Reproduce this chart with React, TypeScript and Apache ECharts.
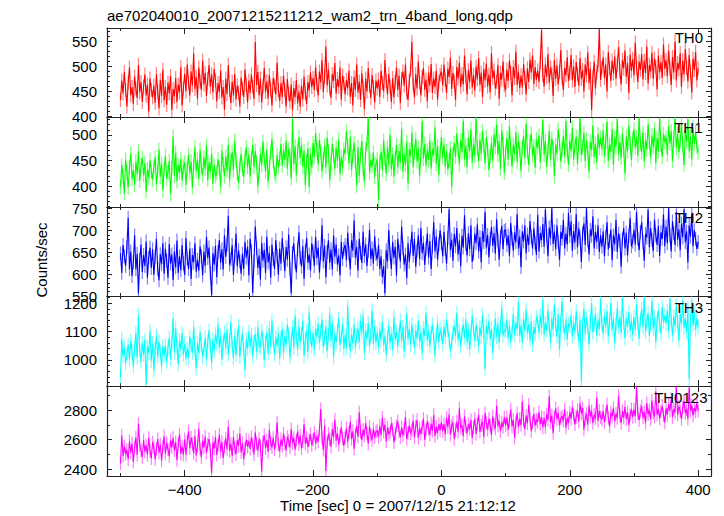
import { useEffect, useRef } from 'react';
import * as echarts from 'echarts';

const FONT = '"Liberation Sans", Arial, Helvetica, sans-serif';

// time bins: t = T0 + i * DT (sec), 451 bins from -500 to 400
const T0 = -500;
const DT = 2;

const TH0 = [
  432, 471, 445, 488, 452, 419, 466, 497, 441, 458, 424, 479, 455, 436, 502, 447, 468, 428, 459, 483, 441, 463, 409, 475, 452,
  437, 461, 426, 484, 449, 415, 472, 440, 493, 431, 458, 422, 467, 445, 480, 412, 454, 439, 476, 428, 463, 447, 498, 421, 455,
  484, 449, 503, 467, 441, 489, 461, 525, 454, 478, 435, 497, 469, 452, 511, 463, 486, 440, 474, 502, 458, 483, 447, 494, 471,
  429, 466, 448, 491, 437, 458, 413, 475, 444, 502, 452, 426, 469, 441, 484, 433, 461, 447, 419, 477, 455, 438, 493, 462, 427,
  471, 446, 483, 458, 434, 548, 462, 488, 441, 475, 427, 459, 496, 448, 469, 435, 482, 453, 421, 476, 461, 443, 507, 452, 430,
  466, 438, 481, 452, 419, 474, 444, 429, 463, 411, 456, 437, 472, 425, 449, 418, 461, 433, 479, 446, 424, 468, 451, 487, 458,
  476, 452, 498, 463, 441, 489, 467, 512, 448, 479, 539, 461, 493, 455, 436, 484, 470, 506, 445, 474, 458, 497, 433, 481, 466,
  443, 472, 455, 491, 438, 466, 421, 478, 452, 503, 447, 469, 432, 486, 457, 414, 475, 449, 496, 461, 436, 482, 458, 427, 471,
  455, 473, 438, 491, 466, 449, 512, 470, 443, 484, 459, 428, 476, 437, 468, 497, 452, 481, 426, 474, 489, 461, 503, 447, 432,
  471, 492, 548, 463, 437, 484, 455, 509, 468, 441, 478, 496, 452, 473, 429, 487, 461, 504, 446, 475, 458, 491, 433, 469, 482,
  489, 461, 503, 472, 446, 495, 478, 517, 454, 486, 469, 432, 498, 475, 507, 458, 484, 463, 521, 479, 443, 492, 468, 511, 457,
  482, 451, 499, 473, 516, 462, 487, 438, 494, 471, 505, 459, 483, 447, 526, 476, 491, 455, 468, 502, 434, 486, 473, 509, 461,
  452, 493, 470, 511, 486, 441, 498, 475, 529, 462, 489, 456, 481, 457, 504, 476, 443, 495, 468, 513, 487, 521, 464, 498, 472,
  491, 468, 507, 572, 482, 459, 503, 478, 524, 466, 497, 485, 440, 512, 474, 501, 463, 489, 532, 477, 452, 496, 481, 518, 470,
  487, 522, 471, 499, 458, 508, 483, 461, 516, 474, 492, 449, 503, 481, 527, 466, 495, 412, 478, 509, 455, 488, 501, 574, 472,
  496, 517, 476, 503, 449, 528, 496, 470, 511, 485, 519, 474, 502, 538, 489, 463, 512, 495, 531, 478, 506, 446, 523, 490, 514,
  481, 547, 497, 468, 509, 492, 524, 473, 511, 486, 539, 465, 502, 489, 527, 474, 515, 498, 453, 521, 487, 508, 476, 543, 494,
  512, 479, 531, 495, 462, 518, 487, 549, 471, 506, 493, 526, 458, 511, 483, 534, 497, 469, 522, 488, 447, 515, 492, 528, 471,
  495,
];

const TH1 = [
  398, 441, 418, 386, 452, 427, 397, 436, 463, 414, 431, 402, 448, 423, 468, 410, 439, 455, 421, 445, 389, 433, 416, 451, 428,
  412, 437, 456, 403, 429, 471, 418, 444, 391, 433, 459, 415, 427, 449, 384, 436, 497, 420, 465, 409, 441, 426, 453, 411, 438,
  446, 402, 434, 461, 425, 448, 397, 440, 476, 429, 452, 414, 471, 437, 421, 456, 433, 479, 412, 447, 428, 463, 404, 441, 419,
  426, 452, 435, 398, 469, 443, 419, 458, 430, 481, 411, 448, 467, 431, 489, 452, 424, 406, 441, 463, 433, 418, 455, 476, 437,
  462, 418, 455, 480, 437, 469, 446, 399, 428, 463, 441, 487, 452, 428, 471, 409, 437, 466, 492, 448, 425, 419, 461, 437, 453,
  482, 440, 470, 451, 489, 434, 472, 460, 415, 531, 443, 478, 421, 467, 496, 455, 481, 438, 469, 402, 449, 474, 398, 462, 437,
  484, 457, 503, 471, 442, 490, 466, 428, 452, 479, 437, 495, 468, 411, 446, 482, 459, 434, 475, 449, 491, 423, 457, 436, 472,
  463, 507, 478, 444, 496, 432, 458, 485, 449, 401, 476, 420, 461, 488, 433, 409, 472, 482, 535, 426, 451, 438, 466, 418, 443,
  452, 372, 448, 467, 431, 489, 452, 424, 476, 441, 501, 433, 462, 418, 455, 480, 437, 469, 446, 512, 428, 463, 441, 487, 405,
  471, 459, 504, 437, 466, 492, 448, 475, 419, 461, 527, 453, 482, 440, 470, 451, 489, 434, 472, 460, 515, 443, 478, 421, 467,
  496, 455, 481, 438, 469, 432, 449, 474, 398, 462, 484, 457, 503, 471, 442, 490, 466, 528, 452, 479, 437, 495, 468, 511, 446,
  482, 459, 534, 475, 449, 491, 463, 507, 478, 444, 496, 472, 431, 458, 485, 449, 501, 476, 520, 461, 488, 433, 509, 482, 426,
  466, 494, 452, 517, 473, 438, 481, 462, 505, 447, 489, 471, 429, 476, 498, 455, 522, 467, 441, 486, 503, 459, 478, 436, 492,
  474, 499, 446, 483, 529, 461, 488, 437, 470, 508, 452, 493, 476, 419, 481, 463, 511, 486, 447, 472, 498, 458, 527, 469, 441,
  489, 468, 514, 452, 478, 497, 443, 482, 533, 461, 475, 504, 449, 491, 466, 428, 487, 471, 519, 457, 483, 446, 502, 474, 495,
  472, 509, 458, 488, 526, 449, 481, 467, 512, 441, 494, 477, 532, 463, 486, 455, 503, 471, 424, 497, 468, 519, 484, 451, 492,
  511, 475, 496, 459, 534, 483, 466, 505, 448, 490, 471, 521, 487, 456, 499, 476, 512, 445, 494, 468, 533, 481, 457, 502, 486,
  495, 461, 518, 483, 507, 449, 492, 535, 474, 502, 466, 488, 523, 479, 441, 509, 486, 531, 468, 497, 452, 515, 483, 504, 476,
  466,
];

const TH2 = [
  648, 603, 667, 641, 619, 662, 729, 611, 652, 596, 628, 689, 611, 647, 556, 633, 668, 605, 644, 619, 675, 592, 638, 661, 614,
  657, 598, 639, 681, 612, 586, 646, 623, 671, 601, 658, 631, 592, 669, 624, 645, 587, 652, 616, 677, 603, 641, 609, 667, 625,
  598, 683, 636, 612, 659, 589, 644, 627, 671, 606, 633, 608, 664, 641, 597, 652, 619, 686, 637, 661, 604, 552, 648, 622, 665,
  593, 651, 678, 626, 657, 611, 689, 640, 668, 734, 622, 634, 667, 598, 641, 693, 618, 655, 629, 601, 647, 612, 674, 638, 663,
  597, 681, 652, 557, 629, 709, 660, 614, 643, 588, 672, 631, 656, 603, 686, 627, 649, 592, 668, 635, 612, 678, 641, 599, 659,
  624, 683, 645, 607, 662, 633, 691, 612, 556, 649, 671, 628, 604, 657, 696, 638, 617, 664, 589, 652, 683, 626, 645, 608, 671,
  652, 619, 686, 637, 661, 604, 648, 712, 629, 665, 593, 651, 678, 626, 657, 611, 689, 640, 668, 622, 643, 597, 674, 635, 658,
  667, 632, 695, 648, 611, 678, 654, 723, 637, 662, 608, 681, 649, 626, 697, 641, 668, 619, 653, 702, 635, 659, 624, 687, 646,
  634, 667, 612, 641, 593, 618, 556, 655, 629, 701, 647, 612, 674, 638, 663, 597, 681, 652, 629, 709, 660, 622, 645, 591, 671,
  628, 663, 697, 642, 681, 617, 654, 689, 635, 706, 648, 672, 621, 659, 693, 638, 676, 612, 664, 719, 652, 687, 633, 668, 701,
  672, 641, 697, 658, 624, 683, 749, 655, 679, 631, 692, 664, 706, 645, 677, 618, 688, 661, 735, 669, 643, 694, 657, 712, 628,
  648, 693, 671, 714, 652, 685, 627, 699, 674, 743, 661, 690, 639, 681, 708, 665, 694, 647, 726, 678, 633, 686, 711, 657, 699,
  702, 666, 689, 641, 717, 681, 654, 696, 673, 738, 659, 687, 616, 698, 675, 712, 648, 691, 667, 722, 686, 659, 705, 671, 644,
  736, 652, 694, 678, 715, 663, 749, 688, 641, 707, 682, 751, 669, 698, 657, 712, 674, 633, 697, 681, 724, 659, 693, 668, 741,
  687, 721, 654, 699, 672, 738, 661, 705, 683, 628, 694, 716, 667, 751, 679, 645, 702, 688, 733, 659, 697, 674, 712, 651, 689,
  663, 698, 641, 684, 719, 657, 676, 702, 632, 689, 668, 724, 651, 693, 678, 617, 681, 706, 659, 695, 643, 688, 729, 664, 675,
  702, 668, 743, 681, 655, 697, 719, 673, 631, 692, 684, 748, 662, 706, 679, 653, 725, 689, 667, 711, 642, 696, 681, 737, 664,
  709, 671, 751, 688, 652, 721, 694, 667, 743, 679, 703, 655, 716, 684, 749, 673, 698, 627, 712, 686, 739, 664, 701, 681, 658,
  674,
];

const TH3 = [
  938, 1076, 1012, 1043, 989, 1021, 1054, 1003, 1067, 1029, 976, 1041, 1095, 1008, 1158, 1035, 994, 1060, 1018, 1072, 912, 1047, 1024, 1103, 997,
  1058, 962, 1039, 1085, 1011, 1066, 1030, 978, 1049, 1016, 1053, 991, 1044, 1078, 1003, 1061, 1146, 1027, 1112, 1049, 985, 1070, 1036, 1095, 1019,
  1058, 1004, 1040, 1007, 1083, 1052, 1026, 1118, 1037, 971, 1061, 1024, 1097, 1055, 1012, 1038, 1079, 1002, 1066, 1104, 1047, 988, 1073, 1031, 1091,
  1058, 1126, 1044, 1085, 1002, 1062, 1097, 1043, 1108, 1019, 1069, 1135, 1052, 1006, 1086, 1018, 1079, 1121, 1011, 1061, 1094, 1037, 963, 1073, 1040,
  1100, 1048, 1088, 1012, 1066, 1092, 1027, 1117, 1051, 1043, 1104, 1075, 998, 1064, 1097, 1022, 1113, 1046, 1139, 1071, 1018, 1082, 1049, 1094, 1006,
  1078, 1109, 1027, 1084, 1051, 1124, 1091, 1008, 1066, 1116, 1043, 1158, 1079, 1036, 1121, 1062, 1092, 1138, 1014, 1074, 1105, 1027, 1168, 1081, 1048,
  1095, 1036, 1112, 1081, 1128, 1059, 1102, 1143, 1046, 1076, 1119, 1031, 1088, 1162, 1067, 1131, 1009, 1094, 1062, 1104, 1146, 1053, 1082, 1127, 1039,
  1089, 1042, 1189, 1073, 1031, 1091, 1058, 1126, 1044, 1085, 1112, 1062, 1138, 1096, 1157, 1024, 1104, 1073, 1131, 1047, 1089, 1175, 1058, 1118, 1063,
  1097, 1043, 1108, 1069, 1135, 1052, 1086, 1018, 1079, 1121, 1061, 1094, 1037, 1152, 1073, 1100, 1048, 1088, 1139, 1066, 1117, 1029, 1092, 1163, 1075,
  1109, 1054, 1126, 1081, 1043, 1104, 1075, 1139, 1064, 1097, 1022, 1113, 1086, 1167, 1071, 1102, 1049, 1094, 1126, 1078, 1015, 1088, 1131, 1062, 1107,
  1092, 1057, 1117, 1081, 1143, 1104, 1075, 1031, 1064, 1097, 1121, 1086, 1167, 1071, 1102, 1049, 1094, 1126, 1078, 1145, 1063, 1110, 1036, 1099, 1158,
  1109, 1067, 1124, 1091, 1048, 1116, 1083, 1158, 1099, 968, 1121, 1092, 1138, 1074, 1110, 1025, 1095, 1147, 1081, 1128, 1062, 1119, 1184, 1087, 1105,
  1102, 1143, 1076, 1119, 1064, 1098, 1162, 1087, 1131, 1109, 1204, 1085, 1122, 1061, 1146, 1103, 1178, 1094, 1127, 1069, 1137, 1053, 1116, 1091, 1152,
  1138, 1096, 1157, 1112, 1213, 1089, 1131, 1104, 1175, 1118, 1063, 1149, 1107, 1196, 1125, 1082, 1161, 1036, 1136, 1208, 1117, 1094, 1143, 1072, 1128,
  1119, 1158, 1084, 1131, 1097, 1172, 1108, 1065, 1143, 925, 1126, 1181, 1092, 1149, 1113, 1056, 1137, 1201, 1098, 1124, 1163, 1087, 1142, 1109, 1215,
  1126, 1093, 1157, 1118, 1174, 1082, 1139, 1202, 1107, 1145, 1061, 1128, 1183, 1114, 1151, 1096, 1219, 1132, 1076, 1148, 1117, 1168, 1103, 1139, 1089,
  1152, 1108, 1196, 1127, 1074, 1143, 1181, 1116, 1221, 1099, 1137, 1164, 1085, 1128, 1209, 1111, 1149, 1062, 1138, 1175, 1124, 1092, 1187, 1133, 1158,
  1129, 1174, 1102, 1216, 1141, 1087, 1153, 1119, 1192, 1135, 1068, 1162, 1127, 1208, 1114, 1146, 1098, 1183, 932, 1137, 1211, 1124, 1169, 1106, 1148,
  1117,
];

const TH0123 = [
  2440, 2628, 2491, 2556, 2503, 2532, 2468, 2589, 2511, 2574, 2452, 2546, 2615, 2497, 2707, 2563, 2528, 2482, 2597, 2519, 2561, 2498, 2612, 2527, 2474,
  2583, 2549, 2467, 2538, 2604, 2512, 2567, 2459, 2551, 2623, 2506, 2578, 2534, 2489, 2596, 2548, 2612, 2527, 2583, 2462, 2571, 2636, 2504, 2554, 2499,
  2603, 2498, 2589, 2657, 2542, 2615, 2571, 2509, 2627, 2493, 2556, 2674, 2538, 2481, 2592, 2547, 2621, 2512, 2568, 2604, 2529, 2376, 2583, 2541, 2618,
  2497, 2562, 2633, 2518, 2584, 2475, 2551, 2609, 2536, 2687, 2524, 2573, 2488, 2618, 2545, 2502, 2597, 2559, 2643, 2514, 2576, 2469, 2538, 2601, 2553,
  2592, 2537, 2618, 2564, 2501, 2649, 2573, 2528, 2606, 2559, 2386, 2584, 2631, 2542, 2597, 2518, 2665, 2576, 2549, 2612, 2534, 2589, 2716, 2567, 2521,
  2603, 2557, 2642, 2581, 2526, 2619, 2594, 2548, 2671, 2577, 2612, 2533, 2598, 2656, 2569, 2627, 2541, 2588, 2703, 2574, 2616, 2552, 2595, 2637, 2563,
  2601, 2648, 2574, 2622, 2587, 2664, 2807, 2613, 2531, 2695, 2389, 2578, 2639, 2604, 2552, 2671, 2618, 2736, 2593, 2645, 2567, 2627, 2683, 2609, 2558,
  2612, 2679, 2587, 2648, 2721, 2603, 2657, 2538, 2634, 2692, 2619, 2784, 2651, 2596, 2668, 2627, 2713, 2642, 2574, 2689, 2631, 2598, 2674, 2615, 2652,
  2661, 2618, 2694, 2632, 2749, 2655, 2702, 2587, 2681, 2636, 2648, 2710, 2669, 2582, 2637, 2693, 2724, 2658, 2617, 2684, 2629, 2671, 2752, 2605, 2646,
  2697, 2641, 2666, 2728, 2615, 2689, 2733, 2612, 2676, 2639, 2684, 2741, 2598, 2664, 2725, 2671, 2632, 2709, 2658, 2768, 2623, 2687, 2644, 2706, 2662,
  2719, 2657, 2705, 2636, 2748, 2683, 2771, 2634, 2692, 2716, 2603, 2663, 2722, 2651, 2811, 2678, 2697, 2624, 2758, 2689, 2642, 2704, 2671, 2733, 2612,
  2684, 2741, 2639, 2706, 2766, 2653, 2697, 2722, 2618, 2779, 2713, 2668, 2742, 2695, 2631, 2758, 2701, 2674, 2829, 2693, 2727, 2657, 2716, 2685, 2752,
  2697, 2751, 2666, 2728, 2804, 2689, 2733, 2612, 2716, 2779, 2684, 2741, 2698, 2857, 2725, 2671, 2762, 2709, 2836, 2743, 2658, 2717, 2774, 2694, 2736,
  2719, 2787, 2705, 2753, 2682, 2748, 2683, 2771, 2734, 2892, 2716, 2763, 2644, 2752, 2811, 2738, 2779, 2697, 2744, 2758, 2729, 2806, 2681, 2747, 2712,
  2784, 2741, 2819, 2766, 2703, 2753, 2797, 2722, 2846, 2779, 2813, 2668, 2741, 2774, 2701, 2829, 2756, 2791, 2712, 2768, 2743, 2882, 2727, 2795, 2752,
  2736, 2794, 2718, 2768, 2837, 2746, 2689, 2781, 2757, 2813, 2724, 2776, 2745, 2896, 2763, 2711, 2792, 2749, 2821, 2738, 2784, 2697, 2766, 2805, 2752,
  2803, 2758, 2956, 2777, 2731, 2792, 2824, 2749, 2786, 2712, 2847, 2771, 2799, 2738, 2864, 2781, 2756, 2924, 2769, 2808, 2743, 2791, 2827, 2764, 2716,
  2812, 2768, 2839, 2795, 2874, 2751, 2806, 2783, 2958, 2769, 2824, 2793, 2738, 2817, 2861, 2779, 2805, 2742, 2951, 2796, 2831, 2763, 2814, 2789, 2847,
  2795,
];

// typical 1-sigma error bar (counts/sec) per band
const ERR = [14, 14, 16, 25, 45];

const NAMES = ['TH0', 'TH1', 'TH2', 'TH3', 'TH0123'];
const SERIES = [TH0, TH1, TH2, TH3, TH0123];
const COLORS = ['#ff0000', '#00ff00', '#0000ff', '#00ffff', '#ff00ff'];

const X_MAJOR = [-400, -200, 0, 200, 400];
const X_MINOR = [-500, -300, -100, 100, 300];
const Y_LABELS = [
  [400, 450, 500, 550],
  [400, 450, 500],
  [550, 600, 650, 700, 750],
  [1000, 1100, 1200],
  [2400, 2600, 2800],
];
const Y_MINOR_STEP = [10, 10, 10, 20, 100];
const Y_MIN = [398, 359, 550, 908, 2355];
const Y_MAX = [576, 535, 754, 1226, 2962];
const X_MIN = -521;
const X_MAX = 420;

const TITLE = 'ae702040010_20071215211212_wam2_trn_4band_long.qdp';
const X_NAME = 'Time [sec] 0 = 2007/12/15 21:12:12';
const Y_NAME = 'Counts/sec';

// layout
const BOUNDS = [28, 117, 207, 296, 386, 476];
const GRID_LEFT = 107;
const GRID_RIGHT_X = 711;
const LABEL_X = [703, 702.5, 703, 703, 707.5];
const LABEL_DY = [9.5, 10.5, 10.5, 11.5, 11.5];

const AXIS_COLOR = '#222';

function minorTicks(i: number) {
  const step = Y_MINOR_STEP[i];
  const out: number[] = [];
  for (let v = Math.ceil(Y_MIN[i] / step) * step; v <= Y_MAX[i]; v += step) {
    if (!Y_LABELS[i].includes(v)) out.push(v);
  }
  return out;
}

function buildOption() {
  const grid: any[] = [];
  const xAxis: any[] = [];
  const yAxis: any[] = [];
  const series: any[] = [];
  const lineStyle = { color: AXIS_COLOR, width: 1.2 };
  const tickStyle = { color: AXIS_COLOR, width: 1 };

  for (let i = 0; i < 5; i++) {
    grid.push({
      left: GRID_LEFT,
      width: GRID_RIGHT_X - GRID_LEFT,
      top: BOUNDS[i],
      height: BOUNDS[i + 1] - BOUNDS[i],
      containLabel: false,
    });
    const xBase = {
      type: 'value',
      gridIndex: i,
      min: X_MIN,
      max: X_MAX,
      splitLine: { show: false },
    };
    const mkX = (pos: string, major: boolean, labels: boolean) => ({
      ...xBase,
      position: pos,
      axisLine: { show: major, onZero: false, lineStyle },
      axisTick: {
        show: true,
        inside: true,
        length: major ? 6 : 3,
        customValues: major ? X_MAJOR : X_MINOR,
        lineStyle: tickStyle,
      },
      axisLabel: {
        show: labels,
        customValues: X_MAJOR,
        margin: 6,
        fontSize: 15,
        fontFamily: FONT,
        color: '#000',
        formatter: (v: number) => String(v).replace('-', '\u2212'),
      },
    });
    xAxis.push(mkX('bottom', true, i === 4));
    xAxis.push(mkX('bottom', false, false));
    xAxis.push(mkX('top', true, false));
    xAxis.push(mkX('top', false, false));

    const yBase = {
      type: 'value',
      gridIndex: i,
      min: Y_MIN[i],
      max: Y_MAX[i],
      splitLine: { show: false },
      scale: true,
    };
    const mkY = (pos: string, major: boolean, labels: boolean) => ({
      ...yBase,
      position: pos,
      axisLine: { show: major, onZero: false, lineStyle },
      axisTick: {
        show: true,
        inside: true,
        length: major ? 5 : 3,
        customValues: major ? Y_LABELS[i] : minorTicks(i),
        lineStyle: tickStyle,
      },
      axisLabel: {
        show: labels,
        customValues: Y_LABELS[i],
        margin: 10,
        fontSize: 15,
        fontFamily: FONT,
        color: '#000',
        formatter: (v: number) => String(v),
      },
    });
    yAxis.push(mkY('left', true, true));
    yAxis.push(mkY('left', false, false));
    yAxis.push(mkY('right', true, false));
    yAxis.push(mkY('right', false, false));

    const data = SERIES[i].map((v, j) => [T0 + j * DT, v]);
    const err = ERR[i];
    const color = COLORS[i];
    // light error bars
    series.push({
      type: 'custom',
      xAxisIndex: 4 * i,
      yAxisIndex: 4 * i,
      data,
      silent: true,
      clip: true,
      encode: { x: 0, y: 1 },
      z: 2,
      renderItem: (_params: any, api: any) => {
        const x = api.value(0);
        const y = api.value(1);
        const p1 = api.coord([x, y - err]);
        const p2 = api.coord([x, y + err]);
        return {
          type: 'line',
          shape: { x1: p1[0], y1: p1[1], x2: p2[0], y2: p2[1] },
          style: { stroke: color, lineWidth: 1.2, opacity: 0.5 },
        };
      },
    });
    series.push({
      type: 'line',
      xAxisIndex: 4 * i,
      yAxisIndex: 4 * i,
      data,
      showSymbol: false,
      symbol: 'none',
      silent: true,
      lineStyle: { color, width: 1.1 },
      z: 3,
    });
  }

  const txt = (text: string, x: number, y: number, align: string, extra: any = {}) => ({
    type: 'text',
    x,
    y,
    silent: true,
    z: 10,
    ...extra,
    style: {
      text,
      fill: '#000',
      font: `15px ${FONT}`,
      align,
      verticalAlign: 'middle',
      textAlign: align,
      textVerticalAlign: 'middle',
    },
  });

  const graphic: any[] = [
    txt(TITLE, 107, 15.5, 'left'),
    txt(X_NAME, 398, 505.5, 'center'),
    txt(Y_NAME, 41.5, 260, 'center', { rotation: Math.PI / 2 }),
  ];
  for (let i = 0; i < 5; i++) {
    graphic.push(txt(NAMES[i], LABEL_X[i], BOUNDS[i] + LABEL_DY[i], 'right'));
  }

  return {
    animation: false,
    backgroundColor: '#fff',
    grid,
    xAxis,
    yAxis,
    series,
    graphic,
  };
}

export default function App() {
  const ref = useRef<HTMLDivElement>(null);
  useEffect(() => {
    if (!ref.current) return;
    const chart = echarts.init(ref.current, undefined, { renderer: 'svg' });
    chart.setOption(buildOption() as any);
    return () => chart.dispose();
  }, []);
  return (
    <div
      ref={ref}
      style={{ position: 'absolute', left: 0, top: 0, width: 724, height: 516, background: '#fff' }}
    />
  );
}
